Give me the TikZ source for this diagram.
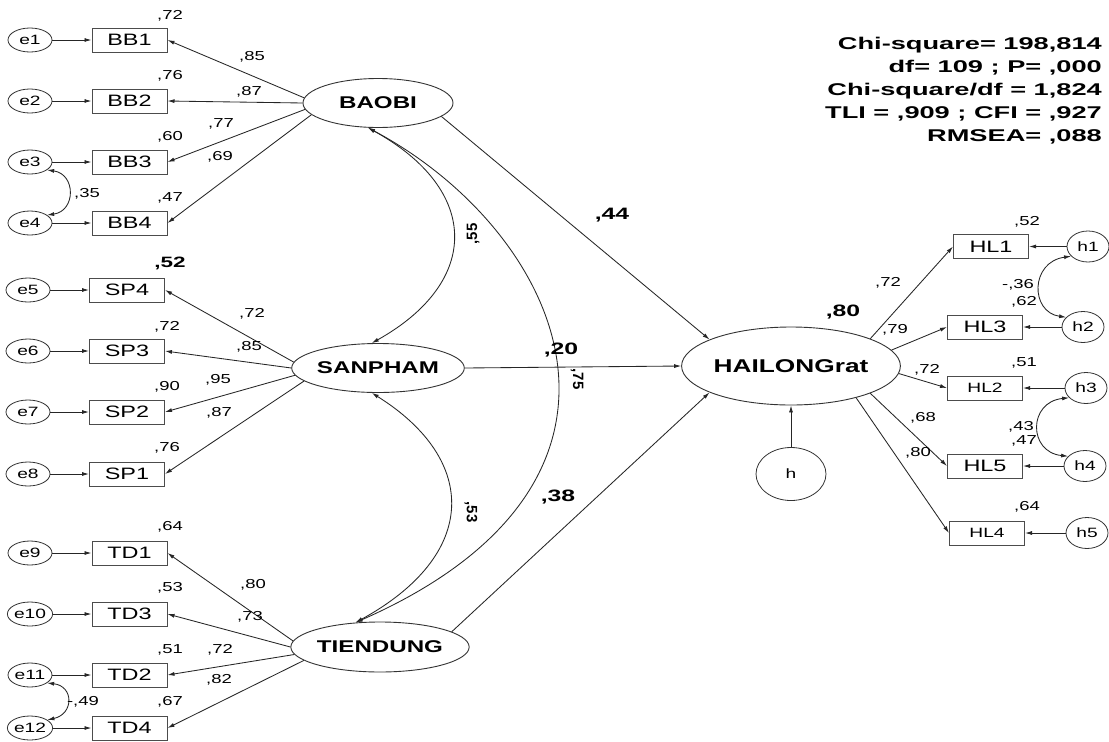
\documentclass[tikz,border=0pt]{standalone}
\usepackage{fontspec}
\setmainfont{Liberation Sans}[FakeStretch=1.42]
\newfontfamily\statsfont{Liberation Sans}[FakeStretch=1.6]
\newfontfamily\coeffont{Liberation Sans}[FakeStretch=1.5]
\newfontfamily\upfont{Liberation Sans}
\usetikzlibrary{arrows.meta,shapes.geometric}

\begin{document}
\begin{tikzpicture}[x=1pt,y=-1pt,
  conn/.style={draw=black!85, line width=0.85pt},
  reg/.style={conn, -{Latex[length=7pt,width=4pt]}},
  cov/.style={conn, {Latex[length=7pt,width=4pt]}-{Latex[length=7pt,width=4pt]}},
  latent/.style={ellipse, draw=black!80, line width=0.9pt, inner sep=0pt,
    minimum width=150pt, minimum height=49pt, font=\bfseries\fontsize{17}{19}\selectfont},
  ind/.style={rectangle, draw=black!70, line width=1pt, inner sep=0pt,
    minimum width=75pt, minimum height=24pt, font=\fontsize{16.5}{18}\selectfont},
  smallind/.style={ind, font=\fontsize{13.5}{15}\selectfont},
  err/.style={ellipse, draw=black!80, line width=0.8pt, inner sep=0pt,
    minimum width=44pt, minimum height=24pt, font=\fontsize{13.5}{15}\selectfont},
  herr/.style={ellipse, draw=black!80, line width=0.8pt, inner sep=0pt,
    minimum width=42pt, minimum height=31pt, font=\fontsize{13.5}{15}\selectfont},
  val/.style={inner sep=0pt, font=\fontsize{13}{15}\selectfont},
  coef/.style={inner sep=0pt, font=\coeffont\bfseries\fontsize{16.5}{18}\selectfont},
  rcoef/.style={inner sep=0pt, font=\upfont\bfseries\fontsize{15}{17}\selectfont},
]
\path[use as bounding box, fill=white] (0,0) rectangle (1109,742);

% latent constructs
\node[latent] (BAOBI) at (378,103) {BAOBI};
\node[latent] (SANPHAM) at (378,368) {SANPHAM};
\node[latent, minimum width=155pt, minimum height=50pt] (TIENDUNG) at (380,647) {TIENDUNG};
\node[latent, minimum width=176pt, minimum height=78pt,
  font=\bfseries\fontsize{18.5}{20}\selectfont] (HAILONG) at (791,366) {HAILONGrat};
\node[err, minimum width=70pt, minimum height=53pt] (h) at (791,474) {h};

% BAOBI indicators
\node[ind] (BB1) at (129.5,40) {BB1};
\node[ind] (BB2) at (129.5,101) {BB2};
\node[ind] (BB3) at (129.5,162) {BB3};
\node[ind] (BB4) at (129.5,223) {BB4};
\node[err] (e1) at (30,40) {e1};
\node[err] (e2) at (30,101) {e2};
\node[err] (e3) at (30,162) {e3};
\node[err] (e4) at (30,223) {e4};

% SANPHAM indicators
\node[ind] (SP4) at (127,290) {SP4};
\node[ind] (SP3) at (127,351) {SP3};
\node[ind] (SP2) at (127,412) {SP2};
\node[ind] (SP1) at (127,474) {SP1};
\node[err] (e5) at (28,290) {e5};
\node[err] (e6) at (28,351) {e6};
\node[err] (e7) at (28,412) {e7};
\node[err] (e8) at (28,474) {e8};

% TIENDUNG indicators
\node[ind] (TD1) at (129.5,553) {TD1};
\node[ind] (TD3) at (129.5,614) {TD3};
\node[ind] (TD2) at (129.5,675) {TD2};
\node[ind] (TD4) at (129.5,728) {TD4};
\node[err] (e9) at (30,553) {e9};
\node[err] (e10) at (30,614) {e10};
\node[err] (e11) at (30,675) {e11};
\node[err] (e12) at (30,728) {e12};

% HAILONGrat indicators
\node[ind] (HL1) at (991,246.5) {HL1};
\node[ind] (HL3) at (985,327) {HL3};
\node[smallind] (HL2) at (985,388) {HL2};
\node[ind] (HL5) at (985,466) {HL5};
\node[smallind] (HL4) at (987,533) {HL4};
\node[herr] (h1) at (1088,246.5) {h1};
\node[herr] (h2) at (1083,327) {h2};
\node[herr] (h3) at (1086,388) {h3};
\node[herr] (h4) at (1085,466) {h4};
\node[herr] (h5) at (1087,533) {h5};

% error terms into indicators
\foreach \a/\b in {e1/BB1,e2/BB2,e3/BB3,e4/BB4,e5/SP4,e6/SP3,e7/SP2,e8/SP1,
                   e9/TD1,e10/TD3,e11/TD2,e12/TD4,h1/HL1,h2/HL3,h3/HL2,h4/HL5,h5/HL4}
  \draw[reg] (\a) -- (\b);

% loadings
\draw[reg] (BAOBI.176) -- (BB1.east);
\draw[reg] (BAOBI.180) -- (BB2.east);
\draw[reg] (BAOBI.185) -- (BB3.east);
\draw[reg] (BAOBI.190) -- (BB4.east);
\draw[reg] (SANPHAM.176) -- (SP4.east);
\draw[reg] (SANPHAM.180) -- (SP3.east);
\draw[reg] (SANPHAM.185) -- (SP2.east);
\draw[reg] (SANPHAM.190) -- (SP1.east);
\draw[reg] (TIENDUNG.176) -- (TD1.east);
\draw[reg] (TIENDUNG.180) -- (TD3.east);
\draw[reg] (TIENDUNG.185) -- (TD2.east);
\draw[reg] (TIENDUNG.190) -- (TD4.east);
\draw[reg] (HAILONG.19) -- (HL1.west);
\draw[reg] (HAILONG.9) -- (HL3.west);
\draw[reg] (HAILONG.-4) -- (HL2.west);
\draw[reg] (HAILONG.-19) -- (HL5.west);
\draw[reg] (HAILONG.-26) -- (HL4.west);

% structural paths
\draw[reg] (BAOBI.-12) -- (HAILONG.162);
\draw[reg] (SANPHAM.east) -- (HAILONG.west);
\draw[reg] (TIENDUNG.12) -- (HAILONG.198);
\draw[reg] (h.north) -- (HAILONG.south);

% covariances
\draw[cov] (BAOBI.-112) .. controls (481,190) and (481,282) .. (SANPHAM.104);
\draw[cov] (BAOBI.-112) .. controls (560,230) and (680,480) .. (TIENDUNG.135);
\draw[cov] (SANPHAM.-104) .. controls (479,460) and (479,555) .. (TIENDUNG.135);
\draw[cov] (e3.-25) .. controls (76,174) and (76,211) .. (e4.25);
\draw[cov] (e11.-25) .. controls (74,686) and (74,714) .. (e12.25);
\draw[cov] (h1.-150) .. controls (1030,262) and (1030,312) .. (h2.150);
\draw[cov] (h3.-150) .. controls (1028,402) and (1028,452) .. (h4.150);

% squared multiple correlations and loadings
\node[val] (r1) at (170,16) {,72};
\node[val] (r2) at (170,76) {,76};
\node[val] (r3) at (170,137) {,60};
\node[val] (r4) at (170,198) {,47};
\node[val] (l1) at (252,57) {,85};
\node[val] (l2) at (249,92) {,87};
\node[val] (l3) at (221,124) {,77};
\node[val] (l4) at (220,157) {,69};
\node[val] (c34) at (87,194) {,35};

\node[coef, font=\coeffont\bfseries\fontsize{15}{17}\selectfont] (r5) at (170,263) {,52};
\node[val] (r6) at (167,327) {,72};
\node[val] (r7) at (167,387) {,90};
\node[val] (r8) at (167,448) {,76};
\node[val] (l5) at (252,314) {,72};
\node[val] (l6) at (249,347) {,85};
\node[val] (l7) at (218,380) {,95};
\node[val] (l8) at (219,413) {,87};

\node[val] (r9) at (170,527) {,64};
\node[val] (r10) at (170,588) {,53};
\node[val] (r11) at (170,650) {,51};
\node[val] (r12) at (170,702) {,67};
\node[val] (l9) at (253,585) {,80};
\node[val] (l10) at (250,617) {,73};
\node[val] (l11) at (220,650) {,72};
\node[val] (l12) at (219,680) {,82};
\node[val] (c1112) at (83,702) {-,49};

\node[val] (rh1) at (1027,222) {,52};
\node[val] (rh3) at (1024,302) {,62};
\node[val] (rh2) at (1024,363) {,51};
\node[val] (rh5) at (1024,441) {,47};
\node[val] (rh4) at (1027,507) {,64};
\node[val] (lh1) at (888,283) {,72};
\node[val] (lh3) at (895,330) {,79};
\node[val] (lh2) at (927,370) {,72};
\node[val] (lh5) at (923,418) {,68};
\node[val] (lh4) at (918,453) {,80};
\node[val] (ch12) at (1018,285) {-,36};
\node[val] (ch34) at (1021,427) {,43};

% structural coefficients
\node[coef] (b1) at (612,215) {,44};
\node[coef] (b2) at (561,350) {,20};
\node[coef] (b3) at (558,497) {,38};
\node[coef] (rsq) at (843,312) {,80};
\node[rcoef, rotate=90] (k12) at (473,234) {,55};
\node[rcoef, rotate=-90] (k13) at (577,379) {,75};
\node[rcoef, rotate=-90] (k23) at (471,512) {,53};

% fit statistics
\node[anchor=east, align=right, inner sep=0pt,
  font=\statsfont\bfseries\fontsize{17}{23}\selectfont] (fit) at (1102,91)
  {Chi-square= 198,814\\ df= 109 ; P= ,000\\ Chi-square/df = 1,824\\ TLI = ,909 ; CFI = ,927\\ RMSEA= ,088};
\end{tikzpicture}
\end{document}
